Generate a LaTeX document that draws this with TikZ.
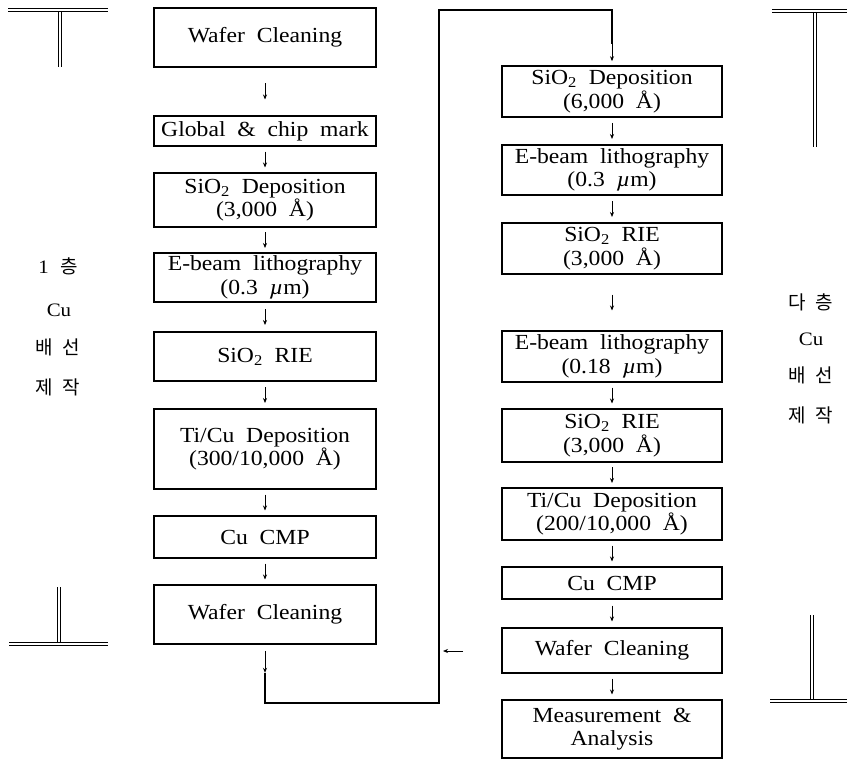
\documentclass[tikz,border=0pt]{standalone}
\usepackage{fontspec}
\setmainfont{Liberation Serif}[FakeStretch=1.1,WordSpace=2]
\newfontfamily\kor{Noto Sans CJK KR}
\usetikzlibrary{calc,arrows.meta}
\tikzset{
  box/.style={draw, line width=1.6pt, align=center, inner sep=0pt, font=\fontsize{21.5}{23.5}\selectfont},
  lbox/.style={box, minimum width=222pt},
  rbox/.style={box, minimum width=220pt},
  arr/.style={line width=0.7pt, -{Stealth[length=5pt,width=4pt]}},
  flow/.style={line width=2pt},
  tbar/.style={double, line width=1pt, double distance=2.2pt},
  lab/.style={font=\fontsize{19}{21}\selectfont, inner sep=0pt}
}
\newcommand\garr[2]{\draw[arr] ($(#1.south)!.5!(#2.north)+(0,-8)$) -- ($(#1.south)!.5!(#2.north)+(0,8)$);}
\newcommand\um{{\itshape µ}m}
\begin{document}
\begin{tikzpicture}[x=1pt,y=-1pt]
\useasboundingbox (0,0) rectangle (847,760);
% left column
\node[lbox, minimum height=59pt] (L1) at (265,37.5) {Wafer Cleaning};
\node[lbox, minimum height=30pt] (L2) at (265,131) {Global \& chip mark};
\node[lbox, minimum height=54pt] (L3) at (265,200) {SiO\textsubscript{2} Deposition\\(3,000 Å)};
\node[lbox, minimum height=49pt] (L4) at (265,277.5) {E-beam lithography\\(0.3 \um)};
\node[lbox, minimum height=49pt] (L5) at (265,356.5) {SiO\textsubscript{2} RIE};
\node[lbox, minimum height=80pt] (L6) at (265,449) {Ti/Cu Deposition\\(300/10,000 Å)};
\node[lbox, minimum height=42pt] (L7) at (265,537) {Cu CMP};
\node[lbox, minimum height=59pt] (L8) at (265,614.5) {Wafer Cleaning};
% right column
\node[rbox, minimum height=51pt] (R1) at (612,91.5) {SiO\textsubscript{2} Deposition\\(6,000 Å)};
\node[rbox, minimum height=50pt] (R2) at (612,170) {E-beam lithography\\(0.3 \um)};
\node[rbox, minimum height=51pt] (R3) at (612,248.5) {SiO\textsubscript{2} RIE\\(3,000 Å)};
\node[rbox, minimum height=51pt] (R4) at (612,356.5) {E-beam lithography\\(0.18 \um)};
\node[rbox, minimum height=53pt] (R5) at (612,435.5) {SiO\textsubscript{2} RIE\\(3,000 Å)};
\node[rbox, minimum height=52pt] (R6) at (612,514) {Ti/Cu Deposition\\(200/10,000 Å)};
\node[rbox, minimum height=32pt] (R7) at (612,583) {Cu CMP};
\node[rbox, minimum height=45pt] (R8) at (612,650.5) {Wafer Cleaning};
\node[rbox, minimum height=58pt] (R9) at (612,729) {Measurement \&\\Analysis};
% arrows
\garr{L1}{L2}\garr{L2}{L3}\garr{L3}{L4}\garr{L4}{L5}\garr{L5}{L6}\garr{L6}{L7}\garr{L7}{L8}
\garr{R1}{R2}\garr{R2}{R3}\garr{R3}{R4}\garr{R4}{R5}\garr{R5}{R6}\garr{R6}{R7}\garr{R7}{R8}\garr{R8}{R9}
% loop
\coordinate (ls) at ($(L8.south)+(0,28)$);
\coordinate (le) at ($(R1.north)+(0,-21)$);
\draw[arr] ($(L8.south)+(0,6)$) -- (ls);
\draw[flow] (ls) -- ++(0,30) -| (439,10) -| (le);
\draw[arr] (le) -- ($(R1.north)+(0,-4)$);
\coordinate (la1) at (463,651);
\coordinate (la2) at (443,651);
\draw[arr] (la1) -- (la2);
% side labels
\node[lab] (a1) at (58,266) {1\hspace{0.6em}{\kor 층}};
\node[lab] (a2) at (59,310) {Cu};
\node[lab] (a3) at (58,347) {\kor 배\hspace{0.5em}선};
\node[lab] (a4) at (58,387) {\kor 제\hspace{0.5em}작};
\node[lab] (b1) at (811,302) {\kor 다\hspace{0.5em}층};
\node[lab] (b2) at (811,339) {Cu};
\node[lab] (b3) at (811,375) {\kor 배\hspace{0.5em}선};
\node[lab] (b4) at (811,415) {\kor 제\hspace{0.5em}작};
% T brackets
\draw[tbar] (60,11) -- (60,67);
\draw[tbar] (8,10) -- (108,10);
\draw[tbar] (59,587) -- (59,643);
\draw[tbar] (9,644) -- (108,644);
\draw[tbar] (815,12) -- (815,147);
\draw[tbar] (772,11) -- (847,11);
\draw[tbar] (812,615) -- (812,700);
\draw[tbar] (770,701) -- (847,701);
\end{tikzpicture}
\end{document}
